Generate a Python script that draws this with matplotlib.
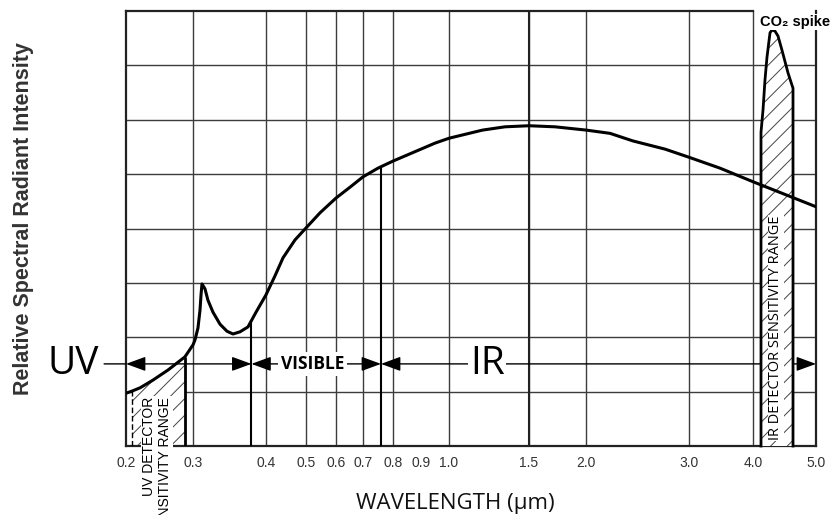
import numpy as np
import matplotlib.pyplot as plt

plt.rcParams['hatch.linewidth'] = 0.7

# flame emission curve (wavelength in um)
wl = [0.2, 0.209, 0.221, 0.240, 0.263, 0.288, 0.30, 0.3027, 0.3068, 0.3096, 0.311,
      0.3123, 0.3164, 0.3205, 0.3274, 0.337, 0.3466, 0.3548, 0.3644, 0.3753,
      0.3863, 0.40, 0.4225, 0.4425, 0.4725, 0.5, 0.547, 0.6, 0.652, 0.7, 0.75,
      0.8, 0.85, 0.9, 0.95, 1.0, 1.21, 1.35, 1.5, 1.728, 2.0, 2.233, 2.456,
      2.767, 3.0, 3.484, 4.0, 5.0]
intensity = [0.97, 1.01, 1.07, 1.21, 1.40, 1.64, 1.86, 1.95, 2.17, 2.50, 2.78,
             2.98, 2.89, 2.68, 2.46, 2.24, 2.11, 2.06, 2.10, 2.19,
             2.46, 2.78, 3.13, 3.46, 3.79, 4.01, 4.29, 4.56, 4.76, 4.95, 5.11,
             5.24, 5.35, 5.46, 5.57, 5.66, 5.81, 5.87, 5.89, 5.87, 5.81, 5.75, 5.61,
             5.46, 5.31, 5.11, 4.86, 4.40]

# CO2 emission spike outline (IR detector range)
co2_wl = [4.127, 4.127, 4.159, 4.19, 4.222, 4.27, 4.302, 4.349, 4.397, 4.46,
          4.556, 4.635, 4.635]
co2_int = [0, 5.77, 6.18, 6.73, 7.15, 7.60, 7.65, 7.63, 7.54, 7.28, 6.86, 6.58, 0]

uv_detector = [0.209, 0.288]
visible = [0.38, 0.76]
band_level = 1.51

# printed axis: ticks are not evenly log spaced on the original chart
tick_wl = [0.2, 0.3, 0.4, 0.5, 0.6, 0.7, 0.8, 0.9, 1.0, 1.5, 2.0, 3.0, 4.0, 5.0]
tick_labels = ['0.2', '0.3', '0.4', '0.5', '0.6', '0.7', '0.8', '0.9', '1.0',
               '1.5', '2.0', '3.0', '4.0', '5.0']
axis_px = [126, 193, 266, 306, 336, 363, 393, 421, 449, 529, 586, 689, 753, 816]
grid_wl = [0.3, 0.4, 0.5, 0.6, 0.7, 0.8, 1.0, 1.5, 2.0, 3.0, 4.0]


def fwd(x):
    return np.interp(x, tick_wl, axis_px)

def inv(p):
    return np.interp(p, axis_px, tick_wl)


fig = plt.figure(figsize=(8.39, 5.15), dpi=100)
ax = fig.add_axes([126 / 839, 69 / 515, 690 / 839, 435 / 515])
ax.set_xscale('function', functions=(fwd, inv))
ax.set_xlim(0.2, 5.0)
ax.set_ylim(0, 8)

# grid
for g in grid_wl:
    ax.axvline(g, color='#3c3c3c', lw=1.0, zorder=1)
for k in range(1, 8):
    ax.axhline(k, color='#3c3c3c', lw=1.0, zorder=1)
ax.axvline(1.5, color='#222', lw=1.5, zorder=1)

for s in ax.spines.values():
    s.set_linewidth(1.6)
    s.set_color('#222')
ax.spines['top'].set_bounds(0.2, 4.0)

ax.set_xticks(tick_wl)
ax.set_xticklabels(tick_labels, family='Liberation Sans', fontsize=10, color='#333')
ax.minorticks_off()
ax.set_yticks([])
ax.tick_params(axis='x', length=0, pad=7)

# UV detector range
wl_arr = np.array(wl)
sel = (wl_arr >= uv_detector[0]) & (wl_arr <= uv_detector[1])
ax.fill_between(wl, 0, intensity, where=sel, facecolor='white', edgecolor='#444',
                hatch='//', lw=0, zorder=2)
ax.vlines(uv_detector[1], 0, np.interp(uv_detector[1], wl, intensity),
          color='black', lw=2, zorder=5)
ax.vlines(uv_detector[0], 0, np.interp(uv_detector[0], wl, intensity),
          color='black', lw=1, linestyles=(0, (4, 2)), zorder=5)

# visible band edges
for v in visible:
    ax.vlines(v, 0, np.interp(v, wl, intensity), color='black', lw=1.5, zorder=5)

# band arrows
head = dict(arrowstyle='<|-|>,head_length=0.6,head_width=0.22', color='black',
            lw=1, shrinkA=0, shrinkB=0, mutation_scale=20)
ax.annotate('', xy=(0.2, band_level), xytext=(visible[0], band_level),
            arrowprops=head, zorder=3)
ax.annotate('', xy=(visible[0], band_level), xytext=(visible[1], band_level),
            arrowprops=head, zorder=3)
ax.annotate('', xy=(visible[1], band_level), xytext=(5.0, band_level),
            arrowprops=head, zorder=3, annotation_clip=False)

ax.annotate('UV', xy=(0.2, band_level), xytext=(-0.077, band_level),
            textcoords=('axes fraction', 'data'), ha='center', va='center',
            family='Open Sans', fontsize=28,
            arrowprops=dict(arrowstyle='-', lw=1, color='black', shrinkA=2, shrinkB=0))
ax.text(0.523, band_level, 'VISIBLE', ha='center', va='center', family='Open Sans',
        fontweight='bold', fontsize=12.5, zorder=6,
        bbox=dict(facecolor='white', edgecolor='none', pad=2))
ax.text(1.24, band_level, 'IR', ha='center', va='center', family='Open Sans',
        fontsize=28, zorder=6,
        bbox=dict(facecolor='white', edgecolor='none', pad=1))

# CO2 spike / IR detector range
ax.fill(co2_wl, co2_int, facecolor='white', edgecolor='#444', hatch='//', lw=0, zorder=4)
ax.plot(co2_wl, co2_int, color='black', lw=2, zorder=5, clip_on=False)

# flame curve
ax.plot(wl, intensity, color='black', lw=2.2, zorder=6, solid_capstyle='round',
        solid_joinstyle='round')

ax.text(4.365, 0.11, 'IR DETECTOR SENSITIVITY RANGE', rotation=90, ha='center',
        va='bottom', family='Open Sans', fontsize=10.5, zorder=7,
        bbox=dict(facecolor='white', edgecolor='none', pad=0.5))
ax.text(0.246, 0.90, 'UV DETECTOR\nSENSITIVITY RANGE', rotation=90, ha='center',
        va='top', multialignment='right', family='Liberation Sans', fontsize=10,
        linespacing=1.2, zorder=7,
        bbox=dict(facecolor='white', edgecolor='none', pad=0.5))
ax.text(4.667, 7.8, 'CO₂ spike', ha='center', va='center',
        family=['Liberation Sans', 'DejaVu Sans'], fontweight='bold', fontsize=10.5,
        zorder=7, bbox=dict(facecolor='white', edgecolor='none', pad=0.5))

fig.text(24 / 839, 1 - 219 / 515, 'Relative Spectral Radiant Intensity', rotation=90,
         ha='center', va='center', family='Liberation Sans', fontweight='bold',
         fontsize=15.5, color='#333')
fig.text(455 / 839, 12 / 515, 'WAVELENGTH (μm)', ha='center', va='center',
         family='Open Sans', fontsize=16, color='#111')

fig.savefig('out.png', dpi=100)
